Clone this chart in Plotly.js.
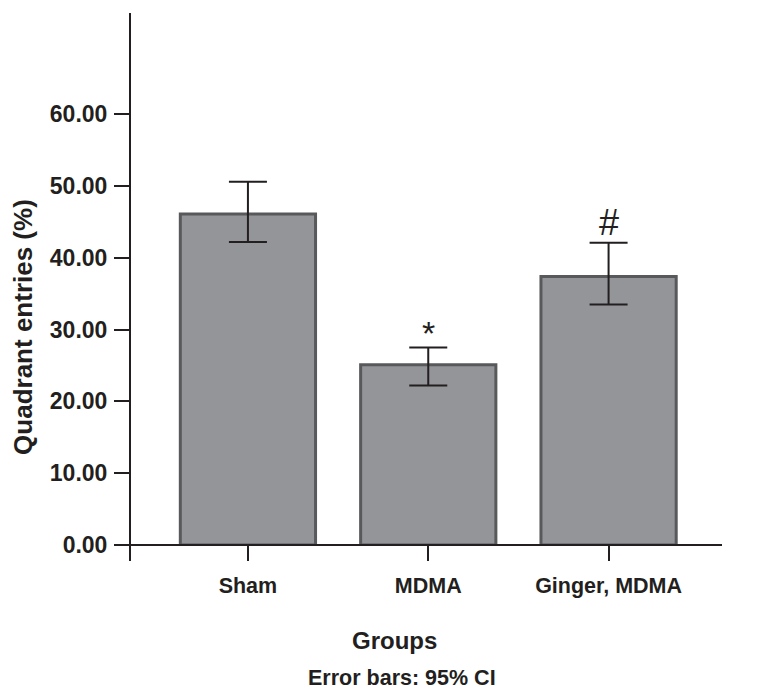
<!DOCTYPE html>
<html>
<head>
<meta charset="utf-8">
<script src="https://cdn.plot.ly/plotly-3.0.1.min.js"></script>
<style>
  html, body { margin: 0; padding: 0; background: #ffffff; }
  #chart { width: 771px; height: 692px; }
</style>
</head>
<body>
<div id="chart"></div>
<script>
// ---- data ----
const groups = ["Sham", "MDMA", "Ginger, MDMA"];
const meanEntries = [46.1, 25.1, 37.4];
const ciUpper = [50.6, 27.5, 42.1];
const ciLower = [42.2, 22.2, 33.5];
const marks = ["", "*", "#"];
const yTickVals = [0, 10, 20, 30, 40, 50, 60];

const errPlus = meanEntries.map((v, i) => ciUpper[i] - v);
const errMinus = meanEntries.map((v, i) => v - ciLower[i]);

const FONT = "Liberation Sans, Arial, Helvetica, sans-serif";
const INK = "#231f20";

const trace = {
  type: "bar",
  x: [0, 1, 2],
  y: meanEntries,
  width: 0.75,
  marker: { color: "#939598", line: { color: "#58595b", width: 3 } },
  error_y: {
    type: "data", symmetric: false,
    array: errPlus, arrayminus: errMinus,
    color: INK, thickness: 2, width: 19
  },
  hoverinfo: "skip"
};

const annotations = [];
marks.forEach((m, i) => {
  if (!m) return;
  annotations.push({
    x: i, y: ciUpper[i], xref: "x", yref: "y",
    text: m, showarrow: false, xanchor: "center", yanchor: "bottom",
    yshift: m === "*" ? -6 : -2,
    font: { family: FONT, size: m === "*" ? 34 : 36, color: INK }
  });
});
annotations.push({
  xref: "paper", yref: "paper", x: -0.1807, y: 0.41,
  text: "<b>Quadrant entries (%)</b>", textangle: -90, showarrow: false,
  xanchor: "center", yanchor: "middle",
  font: { family: FONT, size: 26, color: INK }
});
annotations.push({
  xref: "paper", yref: "paper", x: 0.4476, y: -0.1786,
  text: "<b>Groups</b>", showarrow: false,
  xanchor: "center", yanchor: "middle",
  font: { family: FONT, size: 24, color: INK }
});
annotations.push({
  xref: "paper", yref: "paper", x: 0.4595, y: -0.25,
  text: "<b>Error bars: 95% CI</b>", showarrow: false,
  xanchor: "center", yanchor: "middle",
  font: { family: FONT, size: 21.5, color: INK }
});

const layout = {
  width: 771, height: 692,
  margin: { l: 130, r: 49, t: 13, b: 147, pad: 0 },
  paper_bgcolor: "#ffffff", plot_bgcolor: "#ffffff",
  showlegend: false,
  bargap: 0.25,
  xaxis: {
    range: [-0.654, 2.629],
    tickmode: "array", tickvals: [0, 1, 2], ticktext: groups.map(g => "<b>" + g + "</b>"),
    ticks: "outside", ticklen: 15, tickwidth: 2, tickcolor: INK,
    showline: false, showgrid: false, zeroline: false,
    tickfont: { family: FONT, size: 21.5, color: INK },
    ticklabelstandoff: 6
  },
  yaxis: {
    range: [0, 74.1],
    tickmode: "array", tickvals: yTickVals,
    ticktext: yTickVals.map(v => "<b>" + v.toFixed(2) + "</b>"),
    ticks: "outside", ticklen: 15, tickwidth: 2, tickcolor: INK,
    showline: false, showgrid: false, zeroline: false,
    tickfont: { family: FONT, size: 23, color: INK },
    ticklabelstandoff: 2
  },
  shapes: [
    { type: "line", xref: "paper", yref: "paper", x0: 0, x1: 0, y0: 1, y1: -0.03,
      line: { color: INK, width: 2 } },
    { type: "line", xref: "paper", yref: "paper", x0: -0.0253, x1: 1, y0: 0, y1: 0,
      line: { color: INK, width: 2 } }
  ],
  annotations: annotations
};

Plotly.newPlot("chart", [trace], layout, { displayModeBar: false, staticPlot: true });
</script>
</body>
</html>
